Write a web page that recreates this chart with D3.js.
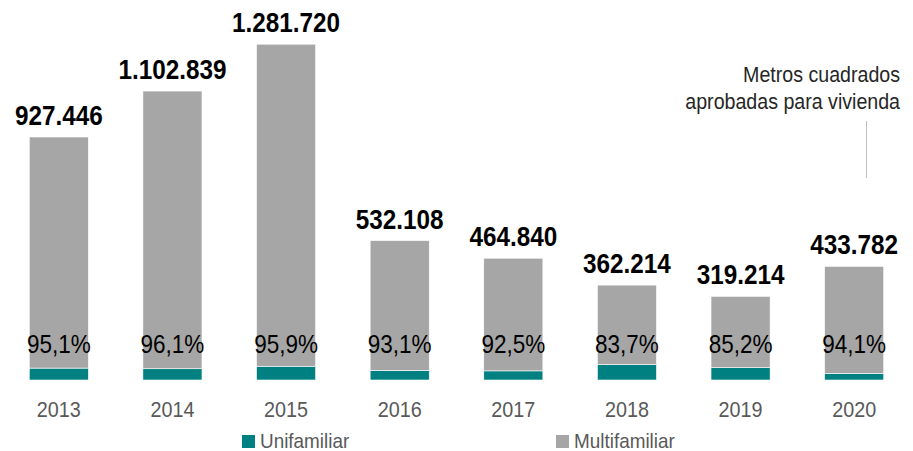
<!DOCTYPE html>
<head>
    <title>Metros cuadrados aprobados</title>
    <script src="https://cdn.jsdelivr.net/npm/d3@7"></script>
</head>
<style>
body {
  margin: 0;
  background: #fff;
  font-family: "Liberation Sans", Arial, Helvetica, sans-serif;
}
</style>
<body>
    <svg></svg>
</body>

<script>

    // Data
    var years = ["2013", "2014", "2015", "2016", "2017", "2018", "2019", "2020"];
    var totals = [927446, 1102839, 1281720, 532108, 464840, 362214, 319214, 433782];
    var multiPct = [95.1, 96.1, 95.9, 93.1, 92.5, 83.7, 85.2, 94.1];
    var seriesNames = ["Unifamiliar", "Multifamiliar"];
    var seriesColors = ["#008080", "#a6a6a6"];

    var width = 913;
    var height = 451;
    var squeeze = 0.9; // the text in the picture is a little condensed

    var svg = d3.select('svg')
        .attr('width', width)
        .attr('height', height);

    // Build the stacked rows from the arrays
    var rows = years.map(function (y, i) {
        var multi = totals[i] * multiPct[i] / 100;
        return { year: y, total: totals[i], pct: multiPct[i], Unifamiliar: totals[i] - multi, Multifamiliar: multi };
    });

    var x = d3.scaleBand()
        .domain(years)
        .range([2, 911])
        .paddingInner(0.48)
        .paddingOuter(0.24);

    var y = d3.scaleLinear()
        .domain([0, 1400000])
        .range([380, 13.2]);

    var stack = d3.stack().keys(seriesNames);
    var layers = stack(rows);

    svg.selectAll('g.layer')
        .data(layers)
        .enter().append('g')
        .attr('class', 'layer')
        .style('fill', function (d, i) { return seriesColors[i]; })
        .selectAll('rect')
        .data(function (d) { return d; })
        .enter().append('rect')
        .attr('x', function (d) { return x(d.data.year); })
        .attr('width', x.bandwidth())
        .attr('y', function (d) { return y(d[1]); })
        .attr('height', function (d) { return y(d[0]) - y(d[1]); })
        .style('stroke', '#fff')
        .style('stroke-width', 0.6);

    // helper for condensed text
    function label(sel, px, py) {
        return sel.attr('transform', function (d, i) {
            return 'translate(' + px(d, i) + ',' + py(d, i) + ') scale(' + squeeze + ',1)';
        });
    }

    // Totals above bars
    label(svg.selectAll('text.total')
        .data(rows)
        .enter().append('text')
        .attr('class', 'total'),
        function (d) { return x(d.year) + x.bandwidth() / 2; },
        function (d) { return y(d.total) - 12; })
        .attr('text-anchor', 'middle')
        .style('font-size', '27px')
        .style('font-weight', 'bold')
        .style('fill', '#000')
        .text(function (d) { return d3.format(",")(d.total).replace(/,/g, "."); });

    // Multifamiliar share
    label(svg.selectAll('text.pct')
        .data(rows)
        .enter().append('text')
        .attr('class', 'pct'),
        function (d) { return x(d.year) + x.bandwidth() / 2; },
        function () { return 353; })
        .attr('text-anchor', 'middle')
        .style('font-size', '25px')
        .style('fill', '#000')
        .text(function (d) { return d.pct.toFixed(1).replace(".", ",") + "%"; });

    // Year axis
    var axis = svg.append('g')
        .attr('transform', 'translate(0,380)')
        .call(d3.axisBottom(x).tickSize(0).tickPadding(37));
    axis.select('.domain').remove();
    axis.selectAll('text')
        .attr('dy', 0)
        .attr('y', 37)
        .attr('transform', function (d) { return 'scale(' + squeeze + ',1)'; })
        .attr('x', 0)
        .style('font-family', '"Liberation Sans", Arial, sans-serif')
        .style('font-size', '22px')
        .style('fill', '#595959');
    axis.selectAll('.tick')
        .attr('transform', function (d) { return 'translate(' + (x(d) + x.bandwidth() / 2) + ',0)'; });

    // Legend
    var legendX = [242, 556];
    var legend = svg.selectAll('g.legend')
        .data(seriesNames)
        .enter().append('g')
        .attr('class', 'legend')
        .attr('transform', function (d, i) { return 'translate(' + legendX[i] + ',435)'; });
    legend.append('rect')
        .attr('width', 13)
        .attr('height', 13)
        .style('fill', function (d, i) { return seriesColors[i]; });
    legend.append('text')
        .attr('transform', 'translate(18,13) scale(' + squeeze + ',1)')
        .style('font-size', '21px')
        .style('fill', '#595959')
        .text(function (d) { return d; });

    // Note at top right
    var note = ["Metros cuadrados", "aprobadas para vivienda"];
    svg.selectAll('text.note')
        .data(note)
        .enter().append('text')
        .attr('class', 'note')
        .attr('transform', function (d, i) { return 'translate(900,' + (82 + i * 27) + ') scale(' + squeeze + ',1)'; })
        .attr('text-anchor', 'end')
        .style('font-size', '21.8px')
        .style('fill', '#262626')
        .text(function (d) { return d; });

    svg.append('line')
        .attr('x1', 866.5).attr('x2', 866.5)
        .attr('y1', 121).attr('y2', 178)
        .style('stroke', '#bfbfbf')
        .style('stroke-width', 1);

</script>
